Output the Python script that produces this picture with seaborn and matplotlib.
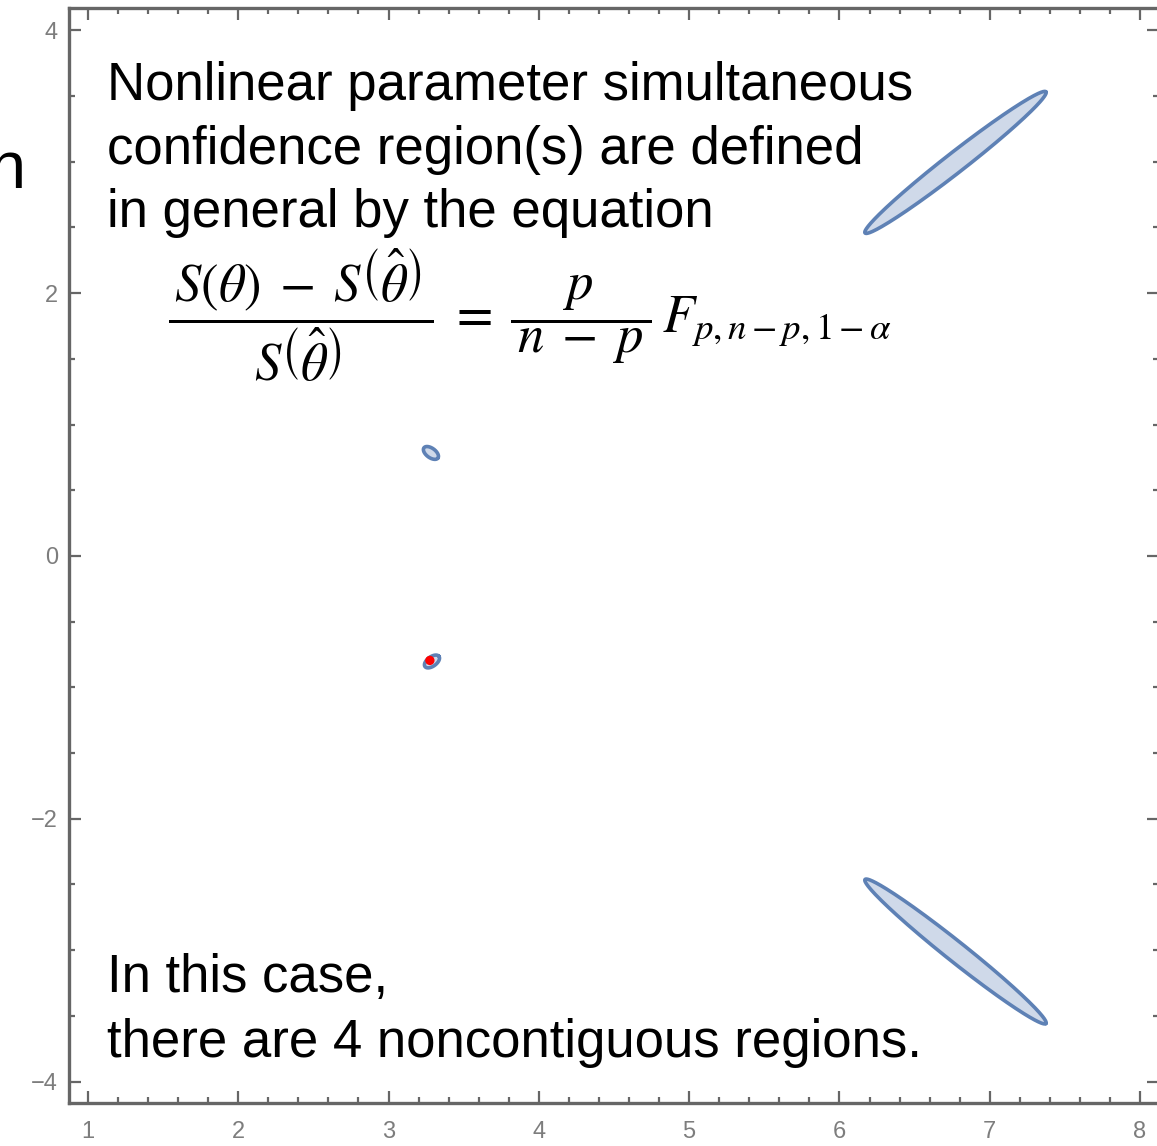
import numpy as np
import matplotlib
matplotlib.use("Agg")
import matplotlib.pyplot as plt
import seaborn as sns

# Confidence regions: centre, half-major axis vector, half-minor axis vector (data units)
region_cx = [6.772, 6.772, 3.282, 3.289]
region_cy = [2.995, -3.010, 0.784, -0.803]
region_major_dx = [0.602, 0.602, 0.046, 0.046]
region_major_dy = [0.537, -0.548, -0.040, 0.040]
region_minor_dx = [0.041, -0.041, -0.020, 0.020]
region_minor_dy = [-0.060, -0.060, -0.028, -0.028]

# Least-squares estimate
best_x = [3.275]
best_y = [-0.795]

x_major = [1, 2, 3, 4, 5, 6, 7, 8]
y_major = [-4, -2, 0, 2, 4]

sns.set_theme(style="white")
plt.rcParams["font.family"] = ["Liberation Sans", "DejaVu Sans"]
plt.rcParams["mathtext.fontset"] = "stix"

W, H = 1157, 1146
fig = plt.figure(figsize=(W / 100, H / 100), dpi=100)
fig.patch.set_facecolor("white")
ax = fig.add_axes([69 / W, (H - 1103) / H, (1159 - 69) / W, (1103 - 8) / H])
ax.set_facecolor("white")

edge = "#5E81B5"
fill = "#CFD9E9"
frame = "#666666"

t = np.linspace(0, 2 * np.pi, 300)
for i in range(len(region_cx)):
    bx = region_cx[i] + np.cos(t) * region_major_dx[i] + np.sin(t) * region_minor_dx[i]
    by = region_cy[i] + np.cos(t) * region_major_dy[i] + np.sin(t) * region_minor_dy[i]
    ax.fill(bx, by, color=fill, lw=0, zorder=2)
    sns.lineplot(x=bx, y=by, sort=False, estimator=None, color=edge, lw=2.6, ax=ax, zorder=3)

sns.scatterplot(x=best_x, y=best_y, color="#FF0000", s=45, edgecolor="none", ax=ax, zorder=4)

ax.set_xlim(0.874, 8.126)
ax.set_ylim(-4.163, 4.170)
ax.set_xticks(x_major)
ax.set_yticks(y_major)
ax.set_xticks(np.arange(1.2, 8.1, 0.2), minor=True)
ax.set_yticks(np.arange(-4.0, 4.01, 0.5), minor=True)
ax.set_xticklabels([str(v) for v in x_major])
ax.set_yticklabels([str(v).replace("-", "\u2212") for v in y_major])

for s in ax.spines.values():
    s.set_visible(True)
    s.set_color(frame)
    s.set_linewidth(2.4)

ax.tick_params(which="both", direction="in", color=frame, top=True, right=True,
               bottom=True, left=True, labelsize=17, labelcolor="#7d7d7d")
ax.tick_params(which="major", length=8.6, width=1.6)
ax.tick_params(which="minor", length=4.5, width=1.6)
ax.tick_params(axis="x", which="major", pad=13)
ax.tick_params(axis="y", which="major", pad=8)
ax.set_xlabel("")
ax.set_ylabel("")
ax.grid(False)


def at(px, py):
    return px / W, 1 - py / H


txt = dict(color="black", fontsize=38, ha="left", va="baseline")
fig.text(*at(107, 100), "Nonlinear parameter simultaneous", **txt)
fig.text(*at(107, 164), "confidence region(s) are defined", **txt)
fig.text(*at(107, 227), "in general by the equation", **txt)
fig.text(*at(107, 992), "In this case,", **txt)
fig.text(*at(107, 1057), "there are 4 noncontiguous regions.", **txt)
fig.text(*at(26, 188), "n", color="black", fontsize=48, ha="right", va="baseline")

fig.text(*at(168, 315),
         r"$\dfrac{\,S(\theta)\;-\;S\left(\hat{\theta}\right)\,}{S\left(\hat{\theta}\right)}"
         r"\;=\;\dfrac{\,p\,}{\,n\;-\;p\,}\,F_{p,n-p,1-\alpha}$",
         color="black", fontsize=38, ha="left", va="center")

fig.savefig("out.png", dpi=100, facecolor="white")
